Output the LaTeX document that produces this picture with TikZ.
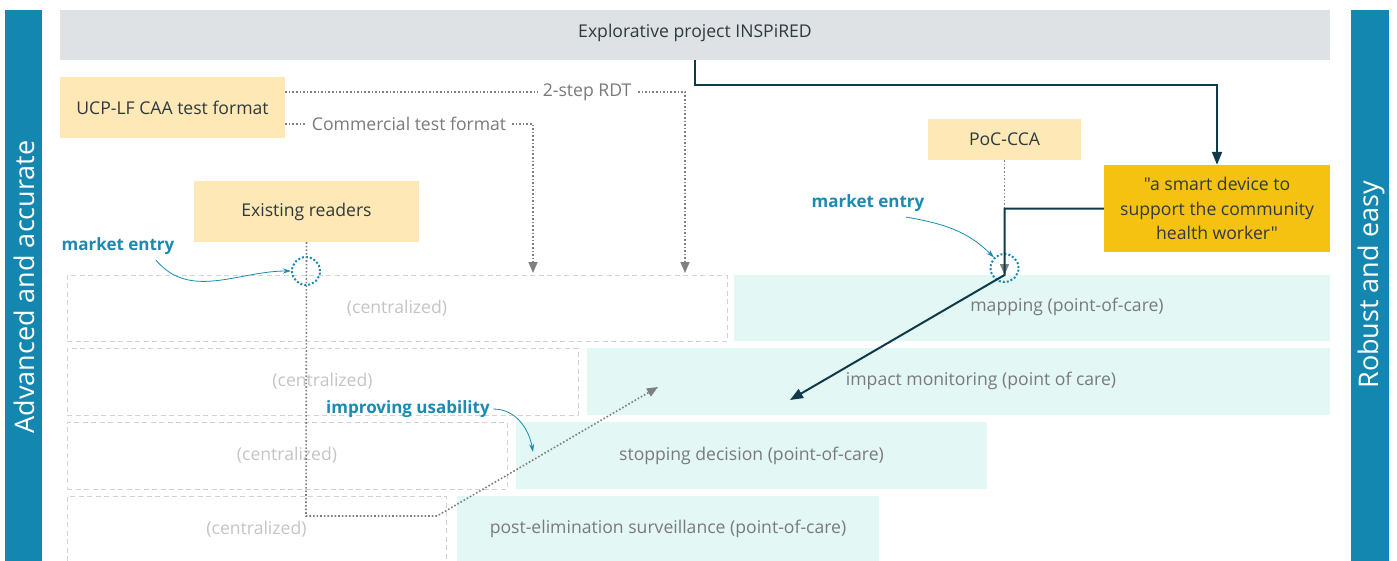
\documentclass[tikz,border=0pt]{standalone}
\usepackage{fontspec}
\setmainfont{Open Sans}[Ligatures=TeXOff]
\usetikzlibrary{arrows.meta,calc}

\definecolor{barblue}{HTML}{1387B0}
\definecolor{topgrey}{HTML}{DEE2E5}
\definecolor{paleyellow}{HTML}{FDE8B6}
\definecolor{gold}{HTML}{F5C211}
\definecolor{navy}{HTML}{0F3A4A}
\definecolor{mint}{HTML}{E3F7F4}
\definecolor{dashgrey}{HTML}{D2D2D2}
\definecolor{centgrey}{HTML}{C4C4C4}
\definecolor{linegrey}{HTML}{808080}
\definecolor{rowtext}{HTML}{7A7A7A}
\definecolor{labelteal}{HTML}{1A8AB0}
\definecolor{textdark}{HTML}{2F3A3F}

\tikzset{
  basefont/.style={font=\fontsize{17.6}{24.5}\selectfont},
  sidebar/.style={fill=barblue, draw=none},
  sidetext/.style={text=white, rotate=90, font=\fontsize{27}{31}\selectfont},
  headbar/.style={fill=topgrey, draw=none, inner sep=0, basefont, text=textdark},
  idea/.style={fill=paleyellow, draw=none, inner sep=0, basefont, text=textdark},
  goal/.style={fill=gold, draw=none, inner sep=0, basefont, text=textdark, align=center},
  central/.style={draw=dashgrey, line width=1pt, dash pattern=on 5pt off 3.5pt, inner sep=0},
  centraltext/.style={basefont, text=centgrey},
  poc/.style={fill=mint, draw=none, inner sep=0},
  poctext/.style={basefont, text=rowtext},
  entry/.style={circle, draw=labelteal, line width=2pt, dotted, minimum size=28pt, inner sep=0},
  note/.style={font=\fontsize{17}{20}\bfseries\selectfont, text=labelteal},
  notearrow/.style={draw=labelteal, line width=0.8pt, -{Stealth[length=8pt,width=5pt]}},
  route/.style={draw=linegrey, line width=1.6pt, dotted, -{Triangle[length=11pt,width=9pt]}},
  routelabel/.style={fill=white, inner sep=5pt, basefont, text=rowtext},
  device/.style={draw=navy, line width=2pt, -{Triangle[length=13pt,width=10pt]}}
}

\begin{document}
\begin{tikzpicture}[x=1pt,y=-1pt]
\useasboundingbox (0,0) rectangle (1397,560);

% side bars
\fill[sidebar] (5,10) rectangle (42,570);
\node[sidetext] (advanced) at (24,287) {Advanced and accurate};
\fill[sidebar] (1351,10) rectangle (1389,570);
\node[sidetext] (robust) at (1371,285) {Robust and easy};

% header
\node[headbar, minimum width=1270pt, minimum height=50pt] (top) at (695,35) {};
\node[basefont, text=textdark] (toptext) at (695,33) {Explorative project INSPiRED};

% test formats, readers and devices
\node[idea, minimum width=225pt, minimum height=61pt] (ucp) at (172.5,107.5) {UCP-LF CAA test format};
\node[idea, minimum width=225pt, minimum height=61pt] (readers) at (306.5,211.5) {Existing readers};
\node[idea, minimum width=153pt, minimum height=41pt] (poc) at (1004.5,139.5) {PoC-CCA};
\node[goal, minimum width=226pt, minimum height=87pt] (smart) at (1217,208.5)
  {"a smart device to\\support the community\\health worker"};

% centralized rows
\node[central, minimum width=660pt, minimum height=66pt] (c1) at (397,308) {};
\node[centraltext] at (c1.center) {(centralized)};
\node[central, minimum width=511pt, minimum height=67pt] (c2) at (322.5,381.5) {};
\node[centraltext] at (c2.center) {(centralized)};
\node[central, minimum width=440pt, minimum height=67pt] (c3) at (287,455.5) {};
\node[centraltext] at (c3.center) {(centralized)};
\node[central, minimum width=379pt, minimum height=66pt] (c4) at (256.5,529) {};
\node[centraltext] at (c4.center) {(centralized)};

% point-of-care rows
\node[poc, minimum width=596pt, minimum height=66pt] (p1) at (1032,308) {};
\node[poctext] (p1t) at (1067,307) {mapping (point-of-care)};
\node[poc, minimum width=743pt, minimum height=67pt] (p2) at (958.5,381.5) {};
\node[poctext] (p2t) at (981,381) {impact monitoring (point of care)};
\node[poc, minimum width=471pt, minimum height=67pt] (p3) at (751.5,455.5) {};
\node[poctext] (p3t) at (p3.center) {stopping decision (point-of-care)};
\node[poc, minimum width=422pt, minimum height=66pt] (p4) at (668,529) {};
\node[poctext] (p4t) at (p4.center) {post-elimination surveillance (point-of-care)};

% market entry points
\node[entry] (entryA) at (306,271) {};
\node[entry] (entryB) at (1004.5,268) {};
\coordinate (landA) at (533,273);
\coordinate (landB) at (685,273);
\coordinate (landC) at (1004.5,275);
\coordinate (downA) at (306,516);
\coordinate (turnA) at (437,516);
\coordinate (toImpact) at (658,387);
\coordinate (toImpactB) at (790,400);

% test format routes
\draw[route] ($(ucp.east)+(0,-15.5)$) -- node[routelabel, pos=0.755] (rdt) {2-step RDT} (landB |- {$(ucp.east)+(0,-15.5)$}) -- (landB);
\draw[route] ($(ucp.east)+(0,16.5)$) -- node[routelabel, pos=0.5] (comm) {Commercial test format} (landA |- {$(ucp.east)+(0,16.5)$}) -- (landA);

% readers route towards point of care
\draw[route] (readers.south) -- (downA) -- (turnA) -- (toImpact);
\draw[route] (poc.south) -- (landC);

% device development
\draw[device] (top.south) -- ++(0,25) -| (smart.north);
\draw[device] (smart.west) -| (landC) -- (toImpactB);

% annotations
\node[note] (meA) at (118,246) {market entry};
\draw[notearrow] ($(meA.south east)+(-22,2)$) to[out=-50,in=180] (entryA.west);
\node[note] (meB) at (868,203) {market entry};
\draw[notearrow] ($(meB.south east)+(-22,2)$) to[out=-10,in=135] (entryB.north west);
\node[note] (usab) at (408,409) {improving usability};
\draw[notearrow] (usab.east) to[out=0,in=100] (533,452);

\end{tikzpicture}
\end{document}
